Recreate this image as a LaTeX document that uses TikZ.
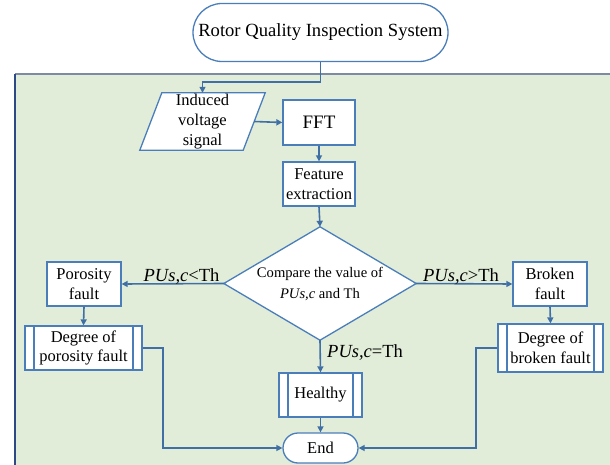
\documentclass[tikz,border=0pt]{standalone}
\usepackage{fontspec}
\setmainfont{Liberation Serif}
\usetikzlibrary{arrows.meta,calc}

\definecolor{boxline}{HTML}{4A7EBB}
\definecolor{flowline}{HTML}{3F6FA4}
\definecolor{panelfill}{HTML}{E2EDD9}
\definecolor{paneltop}{HTML}{7A8BA3}
\definecolor{panelleft}{HTML}{2E4A86}

\tikzset{
  box/.style={draw=boxline, line width=1.3pt, fill=white, inner sep=1pt,
    align=center, font=\fontsize{16.5}{19.5}\selectfont},
  terminal/.style={box, rounded corners=#1},
  subproc/.style={box, path picture={
      \draw[boxline, line width=1.3pt]
        ([xshift=9pt]path picture bounding box.north west) --
        ([xshift=9pt]path picture bounding box.south west)
        ([xshift=-9pt]path picture bounding box.north east) --
        ([xshift=-9pt]path picture bounding box.south east);}},
  outline/.style={draw=boxline, fill=white, line width=1.3pt},
  flow/.style={draw=flowline, line width=1.6pt,
    -{Triangle[length=6pt,width=6pt]}},
  cond/.style={font=\fontsize{18.5}{20}\selectfont, inner sep=0pt},
}

\begin{document}
\begin{tikzpicture}[x=1pt,y=-1pt]
\useasboundingbox (0,0) rectangle (610,465);

% background panel
\fill[panelfill] (15,74) rectangle (615,470);
\draw[paneltop, line width=1.5pt] (15,74) -- (615,74);
\draw[panelleft, line width=1.3pt] (15,74) -- (15,470);

% start terminal
\node[terminal=29pt, minimum width=255pt, minimum height=58pt,
      font=\fontsize{18.6}{20}\selectfont] (start) at (320.5,32.5)
      {Rotor Quality Inspection System};

% input (parallelogram)
\node[minimum width=103pt, minimum height=57pt, inner sep=0pt] (sig) at (202.5,121.5) {};
\filldraw[outline]
  ($(sig.north west)+(11,0)$) -- ($(sig.north east)+(11,0)$) --
  ($(sig.south east)+(-11,0)$) -- ($(sig.south west)+(-11,0)$) -- cycle;
\node[align=center, font=\fontsize{16.5}{20}\selectfont] at (sig) {Induced\\voltage\\signal};

% processing
\node[box, minimum width=72pt, minimum height=45pt,
      font=\fontsize{19}{20}\selectfont] (fft) at (319,122.5) {FFT};
\node[box, minimum width=72pt, minimum height=44pt] (feat) at (319,184)
      {Feature\\extraction};

% decision (diamond)
\node[minimum width=192pt, minimum height=113pt, inner sep=0pt] (dia) at (320,283.5) {};
\filldraw[outline] (dia.north) -- (dia.east) -- (dia.south) -- (dia.west) -- cycle;
\node[align=center, font=\fontsize{14.6}{21}\selectfont] at (dia)
      {Compare the value of\\\textit{PUs,c} and Th};

% outcomes
\node[box, minimum width=74pt, minimum height=44pt] (por) at (84,284) {Porosity\\fault};
\node[subproc, minimum width=117pt, minimum height=44pt] (dpor) at (83.5,348)
      {Degree of\\porosity fault};

\node[box, minimum width=74pt, minimum height=44pt] (brk) at (550,284) {Broken\\fault};
\node[subproc, minimum width=105pt, minimum height=48pt] (dbrk) at (550.5,348)
      {Degree of\\broken fault};

\node[subproc, minimum width=83pt, minimum height=44pt] (hea) at (320.5,395) {Healthy};
\node[terminal=15pt, minimum width=75pt, minimum height=30pt] (end) at (320.5,448) {End};

% routing points
\coordinate (j1) at (202.5,82);
\coordinate (lp) at (163,348);
\coordinate (rp) at (476,348);

% connectors
\draw[flow] (start.south) |- (j1) -- (sig.north);
\draw[flow] (sig.east) -- (fft.west);
\draw[flow] (fft.south) -- (feat.north);
\draw[flow] (feat.south) -- (dia.north);
\draw[flow] (dia.west) -- (por.east);
\draw[flow] (dia.east) -- (brk.west);
\draw[flow] (dia.south) -- (hea.north);
\draw[flow] (por.south) -- (dpor.north);
\draw[flow] (brk.south) -- (dbrk.north);
\draw[flow] (hea.south) -- (end.north);
\draw[flow] (dpor.east) -- (lp) |- (end.west);
\draw[flow] (dbrk.west) -- (rp) |- (end.east);

% branch conditions
\node[cond, anchor=base] at (181.5,281) {\textit{PUs,c}<Th};
\node[cond, anchor=base] at (461,281) {\textit{PUs,c}>Th};
\node[cond, anchor=base west] at (327,357) {\textit{PUs,c}=Th};
\end{tikzpicture}
\end{document}
